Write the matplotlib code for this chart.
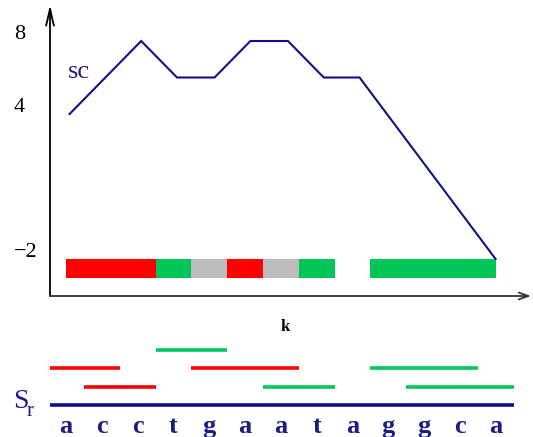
import numpy as np
import matplotlib
matplotlib.use("Agg")
import matplotlib.pyplot as plt
from matplotlib import transforms

# ---- data -------------------------------------------------------------
sequence = ["a", "c", "c", "t", "g", "a", "a", "t", "a", "g", "g", "c", "a"]

# score path along the reference positions k
score_k = [0.1, 2.1, 3.1, 4.15, 5.15, 6.2, 7.2, 8.2, 12.0]
score_v = [4, 8, 6, 6, 8, 8, 6, 6, -2]

# coloured strip under the score path (edges in k, one kind per interval)
strip_edges = [0.0, 2.5, 3.5, 4.5, 5.5, 6.5, 7.5, 8.5, 12.0]
strip_kinds = ["red", "green", "grey", "red", "grey", "green", "blank", "green"]

# aligned reads: (row, start, end, kind) in k units
read_rows = [3, 2, 2, 2, 1, 1, 1]
read_start = [2.5, -0.5, 3.5, 8.5, 0.5, 5.5, 9.5]
read_end = [4.5, 1.5, 6.5, 11.5, 2.5, 7.5, 12.5]
read_kind = ["green", "red", "red", "green", "red", "green", "green"]

y_ticks = [8, 4, -2]
y_tick_labels = ["8", "4", "\u22122"]

# ---- style ------------------------------------------------------------
colors = {"red": "#ff0000", "green": "#00c65a", "grey": "#bcbcbc", "blank": "none"}
navy = "#10108e"
text_navy = "#1c1c86"
serif = ["Liberation Serif", "DejaVu Serif"]

W, H, DPI = 533, 437, 100
fig = plt.figure(figsize=(W / DPI, H / DPI), dpi=DPI)

# k -> pixel: x = 66 + 35.8 k
x0_px, dx_px = 66.0, 35.8
left_px, right_px = 50.0, 531.0
xlim = ((left_px - x0_px) / dx_px, (right_px - x0_px) / dx_px)

# schematic (piecewise linear) score axis
knot = 4.0
slope_hi, slope_lo, base = 18.25, 24.17, 182.0


def fwd(v):
    v = np.asarray(v, dtype=float)
    return np.where(v < knot, base + (v - knot) * slope_lo, base + (v - knot) * slope_hi)


def inv(u):
    u = np.asarray(u, dtype=float)
    return np.where(u < base, knot + (u - base) / slope_lo, knot + (u - base) / slope_hi)


top_px, bottom_px = 5.0, 296.0
ax = fig.add_axes([left_px / W, 1 - bottom_px / H,
                   (right_px - left_px) / W, (bottom_px - top_px) / H])
ax.set_yscale("function", functions=(fwd, inv))
ax.set_xlim(*xlim)
ax.set_ylim(float(inv(0.0)), float(inv(bottom_px - top_px)))
for s in ax.spines.values():
    s.set_visible(False)
ax.set_xticks([])
ax.set_yticks([])
ax.patch.set_alpha(0)

# axes with arrow heads
ax.annotate("", xy=(0, 1), xycoords="axes fraction", xytext=(0, 0),
            arrowprops=dict(arrowstyle="->,head_length=1.2,head_width=0.28",
                            lw=1.3, color="black", shrinkA=0, shrinkB=0))
ax.annotate("", xy=(1, 0), xycoords="axes fraction", xytext=(0, 0),
            arrowprops=dict(arrowstyle="->,head_length=0.7,head_width=0.25",
                            lw=1.3, color="#333333", shrinkA=0, shrinkB=0))

# strip
strip_top, strip_bottom = -2.0, -2.79
for a, b, kind in zip(strip_edges[:-1], strip_edges[1:], strip_kinds):
    if kind == "blank":
        continue
    ax.bar(a, strip_top - strip_bottom, width=b - a, bottom=strip_bottom,
           align="edge", color=colors[kind], linewidth=0)

# score path
ax.plot(score_k, score_v, color=navy, lw=1.5, solid_joinstyle="miter")
ax.text(0.05, 6.3, "sc", color=text_navy, fontsize=19, family=serif,
        ha="left", va="center")

# tick labels, left aligned, sitting slightly above their level
tick_tr = transforms.offset_copy(
    transforms.blended_transform_factory(fig.transFigure, ax.transData),
    fig=fig, x=0, y=5, units="points")
for v, lab in zip(y_ticks, y_tick_labels):
    ax.text(14 / W, v, lab, transform=tick_tr, fontsize=16, family=serif,
            ha="left", va="center")

fig.text(285 / W, 1 - 327 / H, "k", fontsize=12, fontweight="bold",
         family=serif, ha="center", va="center")

# ---- reads and reference sequence ---------------------------------------
row_px = 18.3
seq_px = 405.0
bx_top, bx_bot = 330.0, 437.0
bx = fig.add_axes([left_px / W, 1 - bx_bot / H,
                   (right_px - left_px) / W, (bx_bot - bx_top) / H])
bx.set_xlim(*xlim)
bx.set_ylim((seq_px - bx_bot) / row_px, (seq_px - bx_top) / row_px)
bx.axis("off")

for r, a, b, kind in zip(read_rows, read_start, read_end, read_kind):
    bx.plot([a, b], [r, r], color=colors[kind], lw=2.6, solid_capstyle="butt")

k_idx = np.arange(len(sequence))
bx.plot([k_idx[0] - 0.5, k_idx[-1] + 0.5], [0, 0], color=navy, lw=2.6,
        solid_capstyle="butt")
for k, ch in zip(k_idx, sequence):
    bx.text(k, -1.2, ch, color=text_navy, fontsize=19, fontweight="bold",
            family=serif, ha="center", va="center")

fig.text(13 / W, 1 - 401 / H, "S", color=text_navy, fontsize=20,
         family=serif, ha="left", va="center")
fig.text(27 / W, 1 - 412 / H, "r", color=text_navy, fontsize=15,
         family=serif, ha="left", va="center")

fig.savefig("out.png", dpi=DPI)
